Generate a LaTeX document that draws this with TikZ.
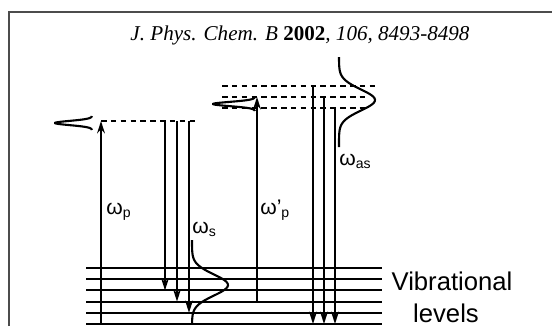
\documentclass[tikz,border=0pt]{standalone}
\usepackage{fontspec}
\setmainfont{Liberation Serif}
\newfontfamily\arialf{Liberation Sans}
\usetikzlibrary{arrows.meta}

\begin{document}
\begin{tikzpicture}[x=0.02cm,y=-0.02cm,>={Stealth[length=7pt,width=4.4pt]},
    level/.style={line width=1.2pt},
    virt/.style={line width=1.2pt,dash pattern=on 3.2pt off 2.4pt},
    trans/.style={line width=1.2pt,->},
    spec/.style={line width=1.2pt,smooth},
    lbl/.style={font=\arialf\fontsize{12}{14}\selectfont,inner sep=0pt}]
    \useasboundingbox (0,0) rectangle (552,326);
    \draw[line width=1.1pt,black!70] (9,326) -- (9,12) -- (552,12);
    \node[font=\fontsize{12}{14}\selectfont\itshape,anchor=base] (title) at (300,40)
      {J. Phys. Chem. B \textbf{\upshape 2002}, 106, 8493-8498};
    % vibrational levels
    \foreach \i in {0,...,5}
      \draw[level] (86,{268+11.2*\i}) -- (382,{268+11.2*\i});
    \node[font=\arialf\fontsize{14.6}{16}\selectfont,anchor=base] (vib) at (452,290) {Vibrational};
    \node[font=\arialf\fontsize{14.6}{16}\selectfont,anchor=base] (lev) at (446,322) {levels};
    % virtual states
    \draw[virt] (101,121) -- (198,121);
    \draw[virt] (222,86) -- (377,86);
    \draw[virt] (222,97) -- (369,97);
    \draw[virt] (222,108) -- (369,108);
    % named ends of the transitions
    \coordinate (pb) at (101,324);   \coordinate (pt) at (101,121);
    \coordinate (qb) at (257,301.6); \coordinate (qt) at (257,97);
    \coordinate (s1t) at (165,121);  \coordinate (s1b) at (165,290.4);
    \coordinate (s2t) at (177,121);  \coordinate (s2b) at (177,301.6);
    \coordinate (s3t) at (189,121);  \coordinate (s3b) at (189,312.8);
    \coordinate (a1t) at (313,86);   \coordinate (a1b) at (313,324);
    \coordinate (a2t) at (324,97);   \coordinate (a2b) at (324,324);
    \coordinate (a3t) at (335,108);  \coordinate (a3b) at (335,324);
    \draw[trans] (pb) -- (pt);
    \draw[trans] (qb) -- (qt);
    \draw[trans] (s1t) -- (s1b);
    \draw[trans] (s2t) -- (s2b);
    \draw[trans] (s3t) -- (s3b);
    \draw[trans] (a1t) -- (a1b);
    \draw[trans] (a2t) -- (a2b);
    \draw[trans] (a3t) -- (a3b);
    % spectra
    \draw[spec] plot[domain=116:130,samples=50] ({92-37*exp(-((\x-123)/3)^2)},\x);
    \draw[spec] plot[domain=97:111,samples=50] ({255-42*exp(-((\x-104)/3)^2)},\x);
    \draw[spec] plot[domain=240:324,samples=60] ({192+36*exp(-((\x-285)/15)^2)},\x);
    \draw[spec] plot[domain=57:147,samples=60] ({339+36*exp(-((\x-100)/15)^2)},\x);
    % labels
    \node[lbl,anchor=base west] (wp) at (106,214) {ω\textsubscript{p}};
    \node[lbl,anchor=base west] (wq) at (260,214) {ω’\textsubscript{p}};
    \node[lbl,anchor=base west] (ws) at (192,233) {ω\textsubscript{s}};
    \node[lbl,anchor=base west] (was) at (339,165) {ω\textsubscript{as}};
  \end{tikzpicture}
\end{document}
